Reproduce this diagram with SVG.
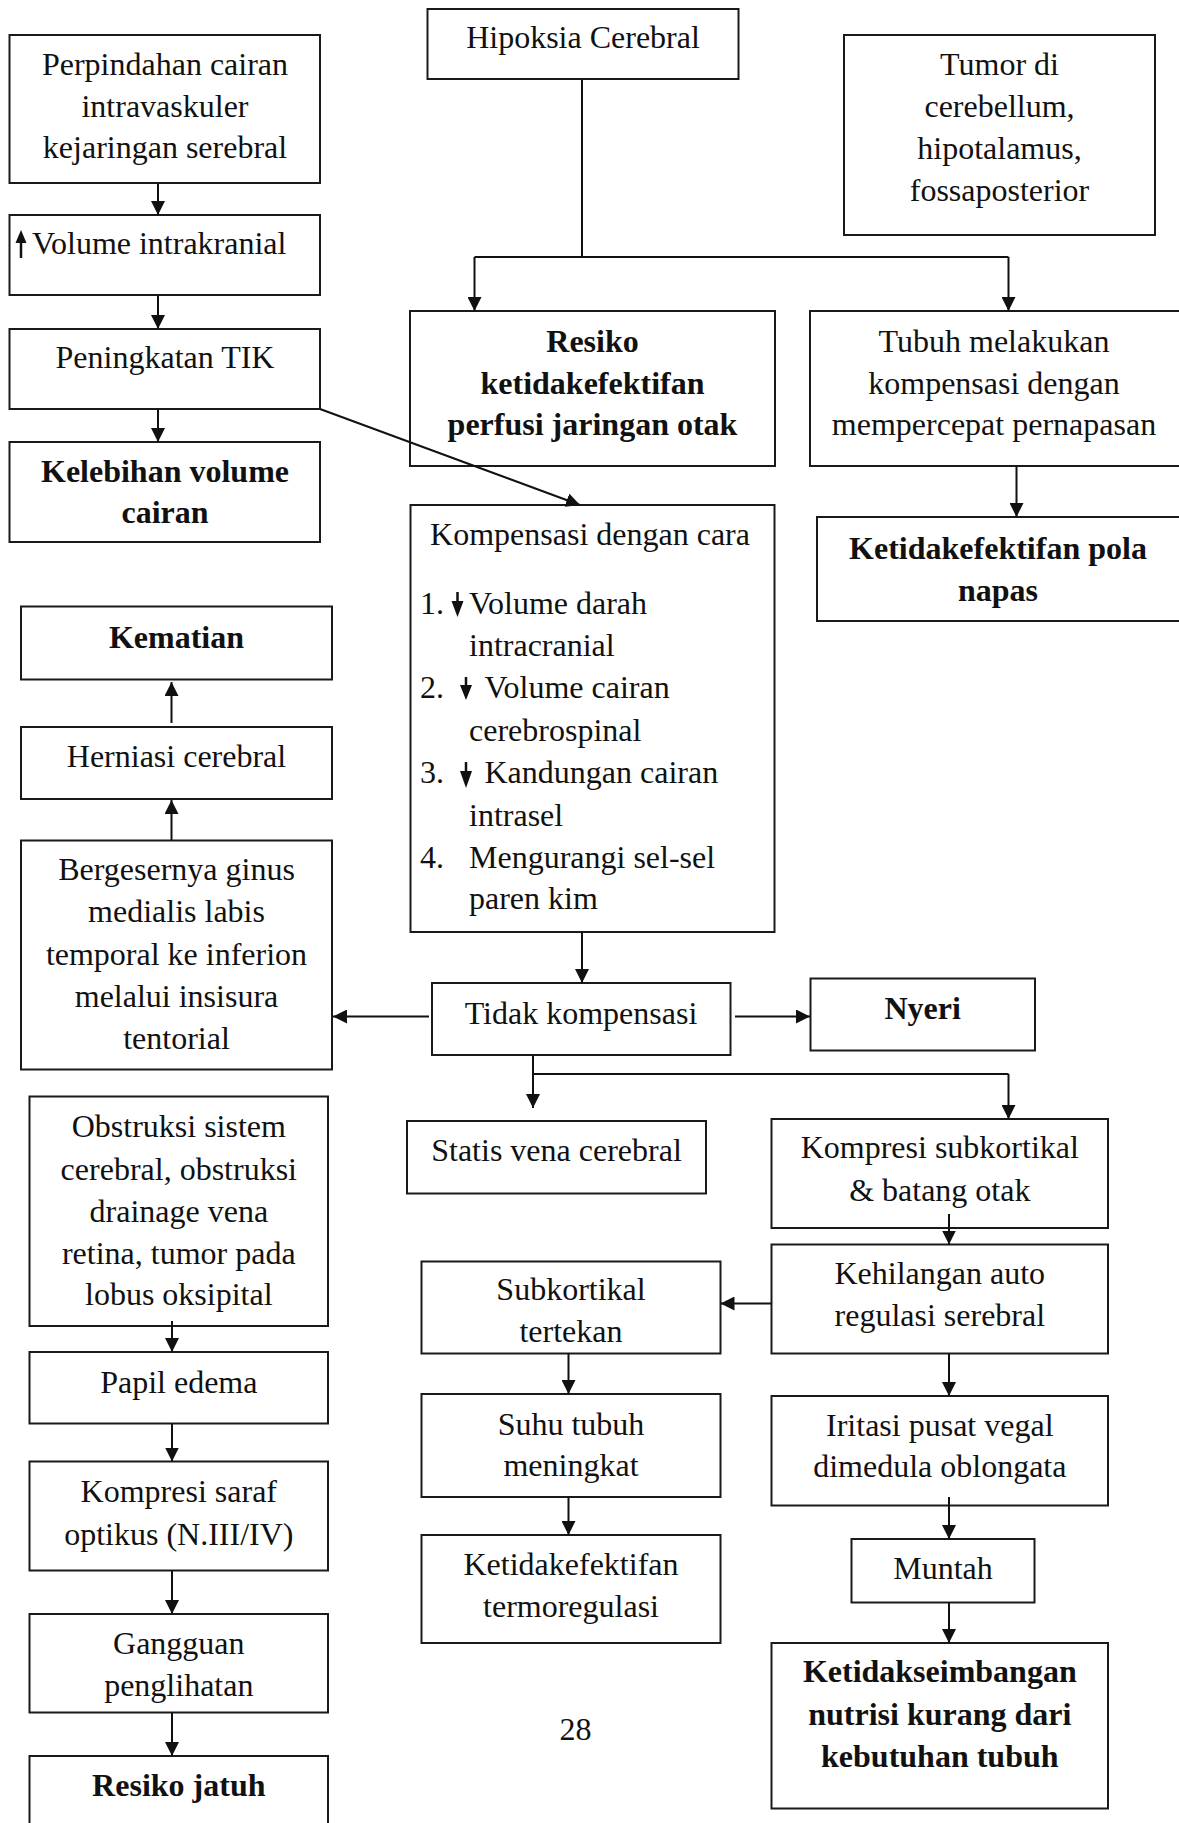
<svg xmlns="http://www.w3.org/2000/svg" width="1179" height="1823" viewBox="0 0 1179 1823">
<style>
.b{fill:#fff;stroke:#1a1a1a;stroke-width:2}
.t{font-family:"Liberation Serif","Times New Roman",serif;font-size:32px;fill:#111;text-anchor:middle}
.l{font-family:"Liberation Serif","Times New Roman",serif;font-size:32px;fill:#111}
.bd{font-weight:bold}
.c{fill:none;stroke:#111;stroke-width:2}
.s{fill:none;stroke:#111;stroke-width:2.5}
.ar{fill:#111}
</style>
<defs>
<marker id="ah" markerUnits="userSpaceOnUse" markerWidth="14" markerHeight="14" refX="14" refY="7" orient="auto">
<path d="M0,0 L14,7 L0,14 z" fill="#111"/>
</marker>
</defs>
<rect width="1179" height="1823" fill="#fff"/>

<g id="n_perpindahan">
<rect class="b" x="9.5" y="35" width="310.5" height="148"/>
<text class="t" x="165" y="75">Perpindahan cairan</text>
<text class="t" x="165" y="116.5">intravaskuler</text>
<text class="t" x="165" y="158">kejaringan serebral</text>
</g>
<g id="n_volume">
<rect class="b" x="9.5" y="215" width="310.5" height="80"/>
<line class="s" x1="21" y1="258" x2="21" y2="240"/>
<path class="ar" d="M15.5,243 L21,230 L26.5,243 z"/>
<text class="l" x="32" y="254">Volume intrakranial</text>
</g>
<g id="n_tik">
<rect class="b" x="9.5" y="329" width="310.5" height="80"/>
<text class="t" x="165" y="368">Peningkatan TIK</text>
</g>
<g id="n_kelebihan">
<rect class="b" x="9.5" y="442" width="310.5" height="100"/>
<text class="t bd" x="165" y="482">Kelebihan volume</text>
<text class="t bd" x="165" y="523">cairan</text>
</g>
<g id="n_hipoksia">
<rect class="b" x="427.5" y="9" width="311" height="70"/>
<text class="t" x="583" y="48">Hipoksia Cerebral</text>
</g>
<g id="n_tumor">
<rect class="b" x="844" y="35" width="311" height="200"/>
<text class="t" x="999.5" y="75">Tumor di</text>
<text class="t" x="999.5" y="117">cerebellum,</text>
<text class="t" x="999.5" y="159">hipotalamus,</text>
<text class="t" x="999.5" y="201">fossaposterior</text>
</g>
<g id="n_resiko_perfusi">
<rect class="b" x="410" y="311" width="365" height="155"/>
<text class="t bd" x="592.5" y="352">Resiko</text>
<text class="t bd" x="592.5" y="393.5">ketidakefektifan</text>
<text class="t bd" x="592.5" y="435">perfusi jaringan otak</text>
</g>
<g id="n_tubuh">
<rect class="b" x="810" y="311" width="380" height="155"/>
<text class="t" x="994" y="352">Tubuh melakukan</text>
<text class="t" x="994" y="393.5">kompensasi dengan</text>
<text class="t" x="994" y="435">mempercepat pernapasan</text>
</g>
<g id="n_kompensasi">
<rect class="b" x="410.5" y="505" width="364" height="427"/>
<text class="t" x="590" y="545">Kompensasi dengan cara</text>
<text class="l" x="420" y="614">1.</text>
<line class="s" x1="457.5" y1="592" x2="457.5" y2="604"/>
<path class="ar" d="M451.5,601 L457.5,617 L463.5,601 z"/>
<text class="l" x="469" y="614">Volume darah</text>
<text class="l" x="469" y="656">intracranial</text>
<text class="l" x="420" y="698">2.</text>
<line class="s" x1="466" y1="677" x2="466" y2="688"/>
<path class="ar" d="M460,685 L466,700 L472,685 z"/>
<text class="l" x="484.5" y="698">Volume cairan</text>
<text class="l" x="469" y="741">cerebrospinal</text>
<text class="l" x="420" y="783">3.</text>
<line class="s" x1="466" y1="762" x2="466" y2="774"/>
<path class="ar" d="M460,771 L466,788 L472,771 z"/>
<text class="l" x="484.5" y="783">Kandungan cairan</text>
<text class="l" x="469" y="826">intrasel</text>
<text class="l" x="420" y="867.5">4.</text>
<text class="l" x="469" y="867.5">Mengurangi sel-sel</text>
<text class="l" x="469" y="909">paren kim</text>
</g>
<g id="n_pola_napas">
<rect class="b" x="817" y="517" width="380" height="104"/>
<text class="t bd" x="998" y="559">Ketidakefektifan pola</text>
<text class="t bd" x="998" y="601">napas</text>
</g>
<g id="n_kematian">
<rect class="b" x="21" y="606.5" width="311" height="73"/>
<text class="t bd" x="176.5" y="648">Kematian</text>
</g>
<g id="n_herniasi">
<rect class="b" x="21" y="727" width="311" height="72"/>
<text class="t" x="176.5" y="766.5">Herniasi cerebral</text>
</g>
<g id="n_bergeser">
<rect class="b" x="21" y="840.5" width="311" height="229"/>
<text class="t" x="176.5" y="880">Bergesernya ginus</text>
<text class="t" x="176.5" y="922">medialis labis</text>
<text class="t" x="176.5" y="964.5">temporal ke inferion</text>
<text class="t" x="176.5" y="1007">melalui insisura</text>
<text class="t" x="176.5" y="1049">tentorial</text>
</g>
<g id="n_tidak">
<rect class="b" x="432" y="983" width="298.5" height="72"/>
<text class="t" x="581" y="1023.5">Tidak kompensasi</text>
</g>
<g id="n_nyeri">
<rect class="b" x="810.5" y="978.5" width="224.5" height="72"/>
<text class="t bd" x="922.7" y="1018.5">Nyeri</text>
</g>
<g id="n_obstruksi">
<rect class="b" x="29.5" y="1096.5" width="298.5" height="229.5"/>
<text class="t" x="178.8" y="1137">Obstruksi sistem</text>
<text class="t" x="178.8" y="1179.5">cerebral, obstruksi</text>
<text class="t" x="178.8" y="1221.5">drainage vena</text>
<text class="t" x="178.8" y="1264">retina, tumor pada</text>
<text class="t" x="178.8" y="1305">lobus oksipital</text>
</g>
<g id="n_papil">
<rect class="b" x="29.5" y="1352" width="298.5" height="71.5"/>
<text class="t" x="178.8" y="1393">Papil edema</text>
</g>
<g id="n_kompresi_saraf">
<rect class="b" x="29.5" y="1461.5" width="298.5" height="109"/>
<text class="t" x="178.8" y="1502">Kompresi saraf</text>
<text class="t" x="178.8" y="1544.5">optikus (N.III/IV)</text>
</g>
<g id="n_gangguan">
<rect class="b" x="29.5" y="1614" width="298.5" height="98.5"/>
<text class="t" x="178.8" y="1653.5">Gangguan</text>
<text class="t" x="178.8" y="1696">penglihatan</text>
</g>
<g id="n_resiko_jatuh">
<rect class="b" x="29.5" y="1756" width="298.5" height="90"/>
<text class="t bd" x="178.8" y="1795.5">Resiko jatuh</text>
</g>
<g id="n_statis">
<rect class="b" x="407" y="1121" width="299" height="72.5"/>
<text class="t" x="556.5" y="1160.5">Statis vena cerebral</text>
</g>
<g id="n_kompresi_sub">
<rect class="b" x="771.5" y="1119" width="336.5" height="109"/>
<text class="t" x="939.8" y="1158">Kompresi subkortikal</text>
<text class="t" x="939.8" y="1201">&amp; batang otak</text>
</g>
<g id="n_kehilangan">
<rect class="b" x="771.5" y="1244.5" width="336.5" height="109"/>
<text class="t" x="939.8" y="1284">Kehilangan auto</text>
<text class="t" x="939.8" y="1325.5">regulasi serebral</text>
</g>
<g id="n_subkortikal">
<rect class="b" x="421.5" y="1261.5" width="299" height="92"/>
<text class="t" x="571" y="1300">Subkortikal</text>
<text class="t" x="571" y="1341.5">tertekan</text>
</g>
<g id="n_suhu">
<rect class="b" x="421.5" y="1394" width="299" height="103"/>
<text class="t" x="571" y="1434.5">Suhu tubuh</text>
<text class="t" x="571" y="1475.5">meningkat</text>
</g>
<g id="n_termo">
<rect class="b" x="421.5" y="1535" width="299" height="108"/>
<text class="t" x="571" y="1575">Ketidakefektifan</text>
<text class="t" x="571" y="1617">termoregulasi</text>
</g>
<g id="n_iritasi">
<rect class="b" x="771.5" y="1396" width="336.5" height="109.5"/>
<text class="t" x="939.8" y="1435.5">Iritasi pusat vegal</text>
<text class="t" x="939.8" y="1477">dimedula oblongata</text>
</g>
<g id="n_muntah">
<rect class="b" x="851.5" y="1539" width="183" height="63.5"/>
<text class="t" x="943" y="1578.5">Muntah</text>
</g>
<g id="n_nutrisi">
<rect class="b" x="771.5" y="1643" width="336.5" height="165.5"/>
<text class="t bd" x="939.8" y="1682">Ketidakseimbangan</text>
<text class="t bd" x="939.8" y="1724.5">nutrisi kurang dari</text>
<text class="t bd" x="939.8" y="1767">kebutuhan tubuh</text>
</g>
<text class="t" x="575.5" y="1740">28</text>

<g id="connectors">
<line class="c" x1="158" y1="183" x2="158" y2="215" marker-end="url(#ah)"/>
<line class="c" x1="158" y1="295" x2="158" y2="329" marker-end="url(#ah)"/>
<line class="c" x1="158" y1="409" x2="158" y2="442" marker-end="url(#ah)"/>
<line class="c" x1="320" y1="409" x2="580" y2="505" marker-end="url(#ah)"/>
<polyline class="c" points="582,79 582,257"/>
<polyline class="c" points="474.5,257 1008.5,257"/>
<line class="c" x1="474.5" y1="257" x2="474.5" y2="311" marker-end="url(#ah)"/>
<line class="c" x1="1008.5" y1="257" x2="1008.5" y2="311" marker-end="url(#ah)"/>
<line class="c" x1="1016.5" y1="466" x2="1016.5" y2="517" marker-end="url(#ah)"/>
<line class="c" x1="582" y1="932" x2="582" y2="983" marker-end="url(#ah)"/>
<line class="c" x1="429" y1="1016.5" x2="333" y2="1016.5" marker-end="url(#ah)"/>
<line class="c" x1="735" y1="1016.5" x2="810" y2="1016.5" marker-end="url(#ah)"/>
<line class="c" x1="533" y1="1055" x2="533" y2="1108" marker-end="url(#ah)"/>
<polyline class="c" points="533,1074 1008.5,1074"/>
<line class="c" x1="1008.5" y1="1074" x2="1008.5" y2="1119" marker-end="url(#ah)"/>
<line class="c" x1="171.5" y1="840.5" x2="171.5" y2="800" marker-end="url(#ah)"/>
<line class="c" x1="171.5" y1="723" x2="171.5" y2="682" marker-end="url(#ah)"/>
<line class="c" x1="172" y1="1321" x2="172" y2="1352" marker-end="url(#ah)"/>
<line class="c" x1="172" y1="1423.5" x2="172" y2="1461.5" marker-end="url(#ah)"/>
<line class="c" x1="172" y1="1570.5" x2="172" y2="1614" marker-end="url(#ah)"/>
<line class="c" x1="172" y1="1712.5" x2="172" y2="1756" marker-end="url(#ah)"/>
<line class="c" x1="949" y1="1214" x2="949" y2="1244.5" marker-end="url(#ah)"/>
<line class="c" x1="771.5" y1="1303.5" x2="720.5" y2="1303.5" marker-end="url(#ah)"/>
<line class="c" x1="568.5" y1="1353.5" x2="568.5" y2="1394" marker-end="url(#ah)"/>
<line class="c" x1="568.5" y1="1497" x2="568.5" y2="1535" marker-end="url(#ah)"/>
<line class="c" x1="949" y1="1353.5" x2="949" y2="1396" marker-end="url(#ah)"/>
<line class="c" x1="949" y1="1497" x2="949" y2="1539" marker-end="url(#ah)"/>
<line class="c" x1="949" y1="1602.5" x2="949" y2="1643" marker-end="url(#ah)"/>
</g>
</svg>
